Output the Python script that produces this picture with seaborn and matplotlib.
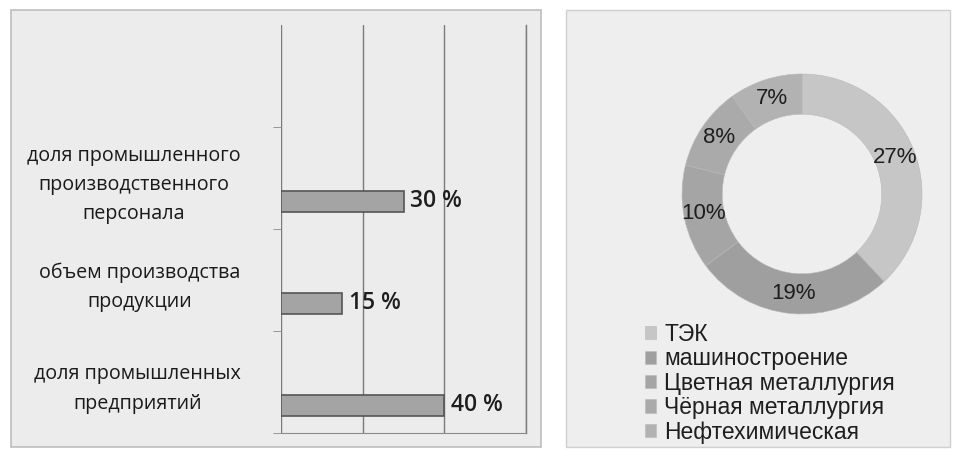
import pandas as pd
import matplotlib
matplotlib.use("Agg")
import matplotlib.pyplot as plt
from matplotlib.patches import Rectangle
import seaborn as sns

# данные левой диаграммы
bar_labels = ["доля промышленного\nпроизводственного\nперсонала",
              "объем производства\nпродукции",
              "доля промышленных\nпредприятий"]
bar_values = [30, 15, 40]

# данные кольцевой диаграммы
ring_labels = ["ТЭК", "машиностроение", "Цветная металлургия",
               "Чёрная металлургия", "Нефтехимическая"]
ring_values = [27, 19, 10, 8, 7]
ring_colors = ["#c6c6c6", "#9f9f9f", "#a5a5a5", "#aaaaaa", "#b2b2b2"]

sns.set_style("white")
plt.rcParams["font.family"] = ["Open Sans", "DejaVu Sans"]

W, H = 955, 450
fig = plt.figure(figsize=(W / 100, H / 100), dpi=100)
fig.patch.set_facecolor("white")

# фоновые панели
fig.patches.append(Rectangle((11 / W, 3 / H), 530 / W, 437 / H, transform=fig.transFigure,
                             facecolor="#ececec", edgecolor="#bdbdbd", lw=1.2, zorder=-5))
fig.patches.append(Rectangle((566 / W, 3 / H), 384 / W, 437 / H, transform=fig.transFigure,
                             facecolor="#eeeeee", edgecolor="#cfcfcf", lw=1.0, zorder=-5))

# ---- левая диаграмма ----
ax = fig.add_axes([281 / W, 1 - 433 / H, 245 / W, 408 / H])
ax.set_facecolor("none")
df = pd.DataFrame({"label": bar_labels, "value": bar_values})
df["pos"] = [i + 1 + 0.23 for i in range(len(df))]
sns.barplot(data=df, x="value", y="pos", orient="h", native_scale=True, width=0.2,
            color="#a4a4a4", edgecolor="#555555", linewidth=1.2, saturation=1, ax=ax)
for cont in ax.containers:
    ax.bar_label(cont, labels=[f"{v} %" for v in bar_values], padding=5,
                 fontsize=16.5, fontweight="semibold", color="#1e1e1e")
ax.set_xlim(0, 60)
ax.set_ylim(3.5, -0.5)
ax.set_xticks([0, 20, 40, 60])
ax.set_xticklabels([])
ax.tick_params(axis="x", length=0)
ax.xaxis.grid(True, color="#7a7a7a", lw=1)
ax.set_axisbelow(True)
ax.set_yticks([1, 2, 3])
ax.set_yticklabels(bar_labels, fontsize=14.2, color="#1a1a1a", ha="right",
                   multialignment="center", linespacing=1.6)
ax.tick_params(axis="y", which="major", length=0, pad=29)
ax.set_yticks([0.5, 1.5, 2.5, 3.5], minor=True)
ax.tick_params(axis="y", which="minor", length=6, color="#8a8a8a", left=True)
for s in ["top", "left"]:
    ax.spines[s].set_visible(False)
ax.spines["bottom"].set_color("#8a8a8a")
ax.spines["right"].set_color("#7a7a7a")
ax.spines["right"].set_linewidth(1)
ax.set_xlabel("")
ax.set_ylabel("")

# ---- кольцевая диаграмма ----
R = 120
ax2 = fig.add_axes([(802 - R) / W, 1 - (194 + R) / H, 2 * R / W, 2 * R / H])
total = sum(ring_values)
wedges, texts, autotexts = ax2.pie(
    ring_values, colors=ring_colors, startangle=90, counterclock=False,
    radius=1, pctdistance=0.835,
    autopct=lambda p: f"{round(p * total / 100)}%",
    wedgeprops=dict(width=0.335, edgecolor="#b8b8b8", linewidth=0.4),
    textprops=dict(fontsize=16, color="#1e1e1e", family=["Liberation Sans", "DejaVu Sans"]))
ax2.set_xlim(-1, 1)
ax2.set_ylim(-1, 1)

fig.legend(wedges, ring_labels, loc="upper left", bbox_to_anchor=(645 / W, 1 - 323 / H),
           frameon=False, handlelength=0.5, handleheight=0.5,
           handletextpad=0.35, labelspacing=0.06, borderpad=0, borderaxespad=0,
           prop=dict(family=["Liberation Sans", "DejaVu Sans"], size=16.5),
           labelcolor="#1e1e1e")

fig.savefig("out.png", dpi=100)
